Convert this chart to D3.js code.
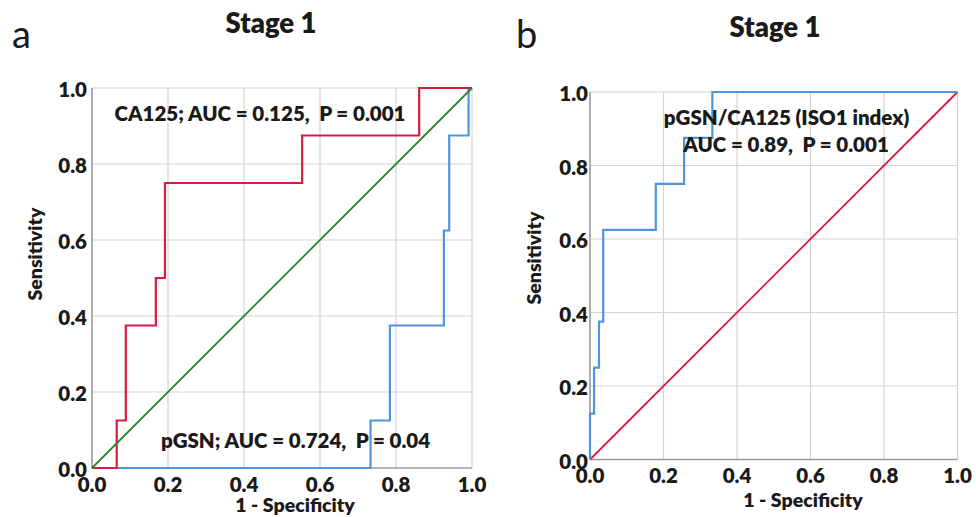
<!DOCTYPE html>
<html>
<head>
<meta charset="utf-8">
<script src="https://cdn.jsdelivr.net/npm/d3@7"></script>
<style>
  html, body { margin: 0; padding: 0; background: #fff; }
  svg { display: block; }
  text { font-family: Lato, "Open Sans", sans-serif; fill: #1a1a1a; white-space: pre; }
</style>
</head>
<body>
<svg id="chart" width="976" height="517"></svg>
<script>
// ---- data ----
const tickValues = [0, 0.2, 0.4, 0.6, 0.8, 1.0];
const tickLabels = ["0.0", "0.2", "0.4", "0.6", "0.8", "1.0"];

// Panel a: CA125 ROC (1 - specificity, sensitivity)
const ca125FPR = [0, 0.065, 0.089, 0.168, 0.192, 0.553, 0.861, 1.0];
const ca125TPR = [0, 0.125, 0.375, 0.5, 0.75, 0.875, 1.0, 1.0];
// Panel a: pGSN ROC
const pgsnFPR = [0, 0.733, 0.784, 0.926, 0.940, 0.991, 1.0];
const pgsnTPR = [0, 0.125, 0.375, 0.625, 0.875, 1.0, 1.0];
// Panel b: pGSN/CA125 (ISO1 index) ROC
const isoFPR = [0, 0, 0.011, 0.0245, 0.036, 0.179, 0.256, 0.333, 1.0];
const isoTPR = [0, 0.125, 0.25, 0.375, 0.625, 0.75, 0.875, 1.0, 1.0];
// Reference diagonal
const refFPR = [0, 1];
const refTPR = [0, 1];

const panelLetters = ["a", "b"];
const panelTitles = ["Stage 1", "Stage 1"];
const xTitle = "1 - Specificity";
const yTitle = "Sensitivity";
const annotA = ["CA125; AUC = 0.125,  P = 0.001", "pGSN; AUC = 0.724,  P = 0.04"];
const annotB = ["pGSN/CA125 (ISO1 index)", "AUC = 0.89,  P = 0.001"];

// ---- drawing ----
const svg = d3.select("#chart");
const RED = "#d81b45", BLUE = "#4f95dc", GREEN = "#23882a";
const BOLD = 800;

function toPts(xs, ys) { return xs.map((x, i) => [x, ys[i]]); }

function panel(cfg) {
  const x = d3.scaleLinear().domain([0, 1]).range([cfg.left, cfg.left + cfg.size]);
  const y = d3.scaleLinear().domain([0, 1]).range([cfg.top + cfg.size, cfg.top]);
  const g = svg.append("g");

  // grid
  g.append("g").selectAll("line").data(tickValues.slice(1)).join("line")
    .attr("x1", d => x(d)).attr("x2", d => x(d))
    .attr("y1", y(0)).attr("y2", y(1))
    .attr("stroke", "#d4d4d4").attr("stroke-width", 1.2);
  g.append("g").selectAll("line").data(tickValues.slice(1)).join("line")
    .attr("x1", x(0)).attr("x2", x(1))
    .attr("y1", d => y(d)).attr("y2", d => y(d))
    .attr("stroke", "#d4d4d4").attr("stroke-width", 1.2);

  // axis lines
  g.append("line").attr("x1", x(0)).attr("x2", x(0)).attr("y1", y(0)).attr("y2", y(1))
    .attr("stroke", "#9a9a9a").attr("stroke-width", 1.6);
  g.append("line").attr("x1", x(0)).attr("x2", x(1)).attr("y1", y(0)).attr("y2", y(0))
    .attr("stroke", "#9a9a9a").attr("stroke-width", 1.6);

  // tick labels
  g.append("g").selectAll("text").data(tickValues).join("text")
    .attr("x", x(0) - cfg.yLabGap).attr("y", d => y(d) + 1)
    .attr("text-anchor", "end").attr("dominant-baseline", "central")
    .attr("font-size", 20.5).attr("font-weight", BOLD)
    .text((d, i) => tickLabels[i]);
  g.append("g").selectAll("text").data(tickValues).join("text")
    .attr("x", d => x(d)).attr("y", y(0) + cfg.xLabOff)
    .attr("text-anchor", "middle")
    .attr("font-size", 20.5).attr("font-weight", BOLD)
    .text((d, i) => tickLabels[i]);

  // axis titles
  g.append("text").attr("x", cfg.xTitleX).attr("y", cfg.xTitleY)
    .attr("text-anchor", "middle").attr("font-size", 19.5).attr("font-weight", BOLD)
    .text(xTitle);
  g.append("text")
    .attr("transform", `translate(${cfg.yTitleX},${cfg.yTitleY}) rotate(-90)`)
    .attr("text-anchor", "middle").attr("font-size", 19.5).attr("font-weight", BOLD)
    .text(yTitle);

  // title & letter
  g.append("text").attr("x", cfg.titleX).attr("y", cfg.titleY)
    .attr("text-anchor", "middle").attr("font-size", 27.5).attr("font-weight", BOLD)
    .text(cfg.title);
  g.append("text").attr("x", cfg.letterX).attr("y", cfg.letterY)
    .attr("font-size", 38).attr("font-weight", 400)
    .text(cfg.letter);

  // curves
  const line = d3.line().x(d => x(d[0])).y(d => y(d[1])).curve(d3.curveStepAfter);
  const diag = d3.line().x(d => x(d[0])).y(d => y(d[1]));
  cfg.curves.forEach(c => {
    g.append("path").attr("d", (c.step ? line : diag)(c.pts))
      .attr("fill", "none").attr("stroke", c.color).attr("stroke-width", c.w)
      .attr("stroke-linejoin", "miter");
  });

  // annotations
  cfg.annots.forEach(a => {
    g.append("text").attr("x", x(a.cx)).attr("y", y(a.by))
      .attr("text-anchor", "middle").attr("font-size", 20.5).attr("font-weight", BOLD)
      .text(a.text);
  });
}

panel({
  left: 92, top: 88, size: 380, yLabGap: 5, xLabOff: 24,
  xTitleX: 295, xTitleY: 512, yTitleX: 42, yTitleY: 254,
  titleX: 271, titleY: 33, title: panelTitles[0],
  letterX: 12, letterY: 48, letter: panelLetters[0],
  curves: [
    { pts: toPts(pgsnFPR, pgsnTPR), color: BLUE, w: 2.2, step: true },
    { pts: toPts(ca125FPR, ca125TPR), color: RED, w: 2.2, step: true },
    { pts: toPts(refFPR, refTPR), color: GREEN, w: 1.8, step: false }
  ],
  annots: [
    { text: annotA[0], cx: (260 - 92) / 380, by: 0.913 },
    { text: annotA[1], cx: (295.5 - 92) / 380, by: 0.053 }
  ]
});

panel({
  left: 590, top: 92, size: 367.5, yLabGap: 2, xLabOff: 23,
  xTitleX: 803, xTitleY: 507, yTitleX: 541, yTitleY: 258,
  titleX: 775, titleY: 37, title: panelTitles[1],
  letterX: 516, letterY: 48, letter: panelLetters[1],
  curves: [
    { pts: toPts(refFPR, refTPR), color: RED, w: 1.8, step: false },
    { pts: toPts(isoFPR, isoTPR), color: BLUE, w: 2.2, step: true }
  ],
  annots: [
    { text: annotB[0], cx: (786.5 - 590) / 367.5, by: 0.910 },
    { text: annotB[1], cx: (786 - 590) / 367.5, by: 0.837 }
  ]
});
</script>
</body>
</html>
